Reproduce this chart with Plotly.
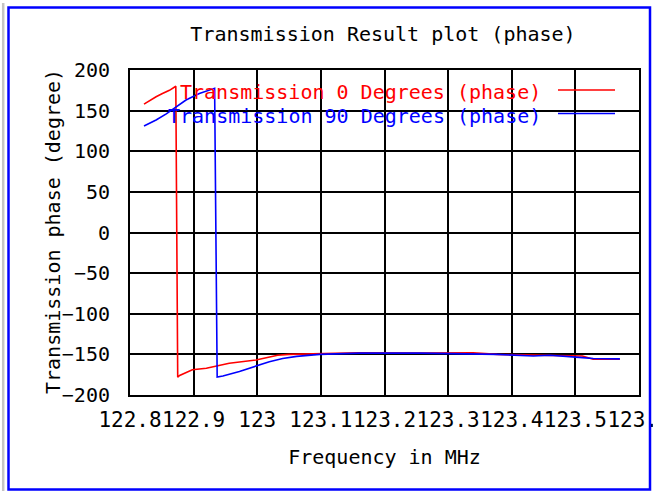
import plotly.graph_objects as go

# ---- data ----
freq_0deg = [122.822, 122.830, 122.841, 122.851, 122.862, 122.872, 122.875, 122.878,
             122.889, 122.898, 122.920, 122.956, 122.998, 123.032, 123.050, 123.098,
             123.160, 123.256, 123.339, 123.377, 123.434, 123.460, 123.511, 123.528, 123.570]
phase_0deg = [158, 162, 167, 171, 175, 180, -178, -176,
              -172, -169, -167, -161, -157, -151, -150, -149,
              -148, -148.5, -148, -150, -151, -151.5, -152, -156, -156]

freq_90deg = [122.822, 122.841, 122.857, 122.870, 122.888, 122.909, 122.922, 122.933,
              122.937, 122.946, 122.972, 122.998, 123.019, 123.040, 123.062, 123.098,
              123.161, 123.256, 123.339, 123.377, 123.434, 123.460, 123.511, 123.528, 123.570]
phase_90deg = [131, 138.5, 146, 153, 163, 171, 175, 177.5,
               -178, -176.5, -171, -164, -159, -155, -152.5, -150,
               -148.5, -148.5, -149, -150, -152, -151, -154, -155, -155.5]

x_tick_vals = [122.8, 122.9, 123.0, 123.1, 123.2, 123.3, 123.4, 123.5, 123.6]
x_tick_text = ["122.8", "122.9", "123", "123.1", "123.2", "123.3", "123.4", "123.5", "123.6"]
y_tick_vals = [-200, -150, -100, -50, 0, 50, 100, 150, 200]

series_names = ["Transmission 0 Degrees (phase)", "Transmission 90 Degrees (phase)"]
series_colors = ["#ff0000", "#0000ff"]

# ---- layout geometry ----
W, H = 653, 491
L, R, T, B = 130, 639, 70, 395
FONT = "DejaVu Sans Mono"


def px(x):
    return (x - L) / (R - L)


def py(y):
    return (B - y) / (B - T)


fig = go.Figure()
fig.add_trace(go.Scatter(x=freq_0deg, y=phase_0deg, mode="lines", name=series_names[0],
                         line=dict(color=series_colors[0], width=1.6)))
fig.add_trace(go.Scatter(x=freq_90deg, y=phase_90deg, mode="lines", name=series_names[1],
                         line=dict(color=series_colors[1], width=1.6)))

shapes = [
    # legend background box (hides grid, under traces)
    dict(type="rect", xref="paper", yref="paper", x0=px(176), x1=px(625), y0=py(125), y1=py(79),
         fillcolor="white", line=dict(width=0), layer="between"),
    # legend line samples
    dict(type="line", xref="paper", yref="paper", x0=px(558), x1=px(615), y0=py(90), y1=py(90),
         line=dict(color=series_colors[0], width=1.6)),
    dict(type="line", xref="paper", yref="paper", x0=px(558), x1=px(615), y0=py(113.5), y1=py(113.5),
         line=dict(color=series_colors[1], width=1.6)),
    # outer blue frame
    dict(type="rect", xref="paper", yref="paper", x0=px(8.5), x1=px(650), y0=py(489.5), y1=py(7.5),
         line=dict(color="#0000ff", width=2.5), fillcolor="rgba(0,0,0,0)", layer="above"),
    # gray bar on the far left
    dict(type="line", xref="paper", yref="paper", x0=px(3.2), x1=px(3.2), y0=py(492), y1=py(3),
         line=dict(color="#c4c4c4", width=2.5), layer="above"),
]

annotations = [
    dict(text=series_names[0], xref="paper", yref="paper", x=px(543), y=py(92),
         xanchor="right", yanchor="middle", showarrow=False,
         font=dict(family=FONT, size=20, color=series_colors[0])),
    dict(text=series_names[1], xref="paper", yref="paper", x=px(543), y=py(115.5),
         xanchor="right", yanchor="middle", showarrow=False,
         font=dict(family=FONT, size=20, color=series_colors[1])),
    # y axis title
    dict(text="Transmission phase (degree)", xref="paper", yref="paper", x=px(53), y=py(232),
         xanchor="center", yanchor="middle", textangle=-90, showarrow=False,
         font=dict(family=FONT, size=20, color="black")),
]

fig.update_layout(
    width=W, height=H, autosize=False,
    margin=dict(l=L, r=W - R, t=T, b=H - B, pad=0),
    paper_bgcolor="white", plot_bgcolor="white",
    showlegend=False,
    title=dict(text="Transmission Result plot (phase)", x=px(383), xref="paper", xanchor="center",
               y=1 - 34 / H, yref="container", yanchor="middle",
               font=dict(family=FONT, size=20, color="black")),
    font=dict(family=FONT, color="black"),
    shapes=shapes,
    annotations=annotations,
)

fig.update_xaxes(
    range=[122.8, 123.6], tickvals=x_tick_vals, ticktext=x_tick_text, tickangle=0,
    ticklabeloverflow="allow",
    showgrid=True, gridcolor="black", gridwidth=1.5, zeroline=False,
    showline=True, mirror=True, linecolor="black", linewidth=2, ticks="",
    tickfont=dict(family=FONT, size=21, color="black"), ticklabelstandoff=5,
    title=dict(text="Frequency in MHz", font=dict(family=FONT, size=20, color="black"), standoff=19),
    automargin=False,
)
fig.update_yaxes(
    range=[-200, 200], tickvals=y_tick_vals,
    showgrid=True, gridcolor="black", gridwidth=1.5, zeroline=False,
    showline=True, mirror=True, linecolor="black", linewidth=2, ticks="",
    tickfont=dict(family=FONT, size=20, color="black"), ticklabelstandoff=14,
    automargin=False,
)

fig.write_html("out.html", config={"displayModeBar": False},
               post_script="document.body.style.margin='0px';document.body.style.overflow='hidden';")
